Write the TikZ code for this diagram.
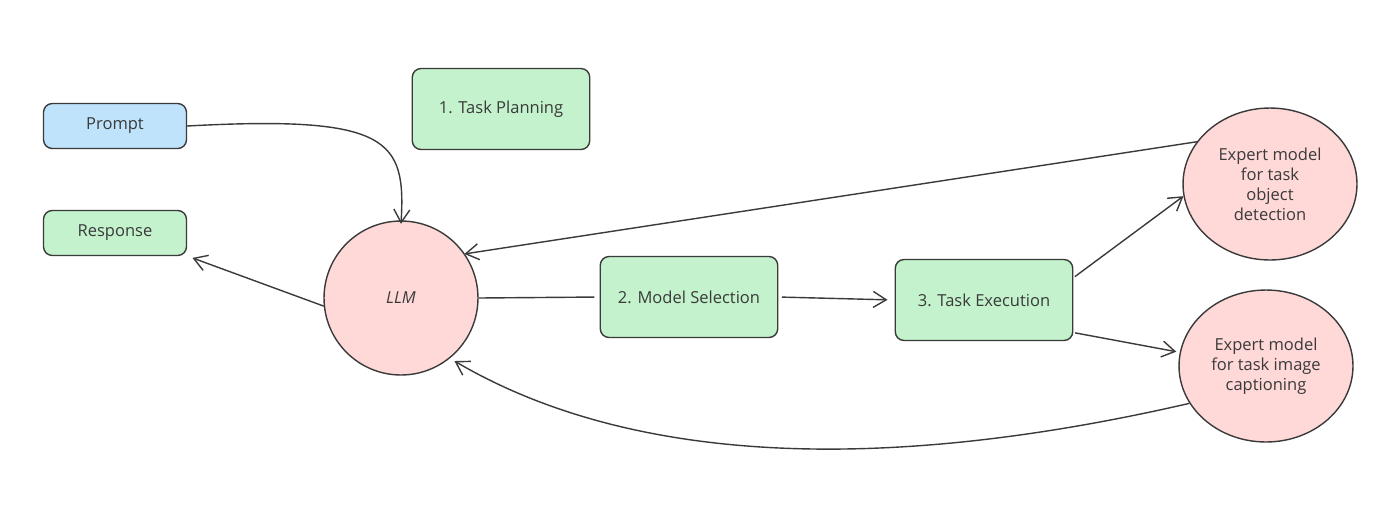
\documentclass[tikz,border=0pt]{standalone}
\usepackage{fontspec}
\setmainfont{Open Sans}
\usepackage{tikz}
\usetikzlibrary{arrows.meta,shapes.geometric,positioning}
\definecolor{inkgray}{HTML}{3A3A3A}
\definecolor{promptblue}{HTML}{BFE3FB}
\definecolor{stepgreen}{HTML}{C3F2CC}
\definecolor{modelpink}{HTML}{FFD8D8}
\tikzstyle{block} = [rectangle, draw=inkgray, rounded corners=5pt, text=inkgray,
    text centered, inner sep=0pt]
\tikzstyle{io} = [block, minimum width=2.86cm, minimum height=0.9cm]
\tikzstyle{stage} = [block, fill=stepgreen, minimum width=3.55cm, minimum height=1.62cm]
\tikzstyle{expert} = [ellipse, draw=inkgray, fill=modelpink, text=inkgray,
    minimum width=3.48cm, minimum height=3.04cm, inner sep=0pt, align=center]

\begin{document}
\begin{tikzpicture}[x=0.02cm,y=-0.02cm,->,>={Straight Barb[length=2.6mm,width=3.2mm]},
                    line width=0.8pt,draw=inkgray,font=\fontsize{9.4}{11.4}\selectfont,
                    node distance=2.14cm]
  \useasboundingbox (0,0) rectangle (1396,508);

  \node[io,fill=promptblue]   (prompt) at (115,126) {Prompt};
  \node[io,fill=stepgreen]    (response) [below of=prompt] {Response};
  \node[stage]                (planning) at (501,109) {1. Task Planning};
  \node[circle,draw=inkgray,fill=modelpink,text=inkgray,minimum size=3.08cm]
                              (llm) at (401,298) {\itshape LLM};
  \node[stage]                (modsel) at (689,297) {2. Model Selection};
  \node[stage]                (taskexec) at (984,300) {3. Task Execution};
  \node[expert]               (detect) at (1270,184) {Expert model\\for task\\object\\detection};
  \node[expert]               (caption) at (1266,366) {Expert model\\for task image\\captioning};

  \draw (prompt.east) .. controls (390,115) and (406,140) .. ([yshift=-2pt]llm.north);
  \draw (llm.186) -- ([shift={(3pt,-1pt)}]response.south east);
  \draw (detect.150) -- ([shift={(-1pt,1pt)}]llm.33);
  \draw[-,shorten >=3pt] (llm.east) -- (modsel.west);
  \draw[shorten <=2pt,shorten >=4pt] (modsel.east) -- (taskexec.west);
  \draw[shorten <=1pt] (taskexec.14) -- (detect.188);
  \draw[shorten <=1pt,shorten >=2pt] (taskexec.340) -- (caption.171);
  \draw (caption.206) .. controls (900,470) and (640,470) .. ([shift={(2pt,-2pt)}]llm.310);
\end{tikzpicture}
\end{document}
